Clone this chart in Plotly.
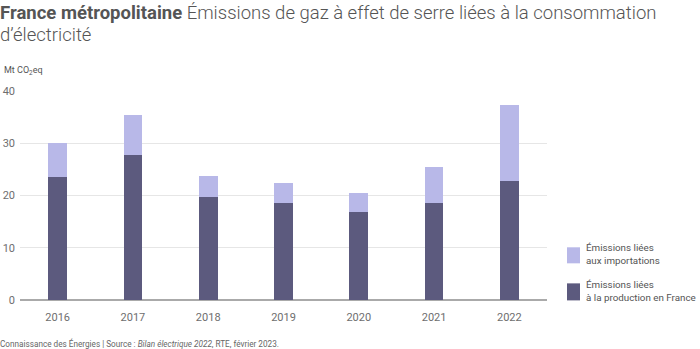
import plotly.graph_objects as go

years = ["2016", "2017", "2018", "2019", "2020", "2021", "2022"]
production = [23.6, 27.8, 19.7, 18.5, 16.8, 18.6, 22.7]
imports = [6.4, 7.6, 4.1, 3.9, 3.6, 6.9, 14.7]
y_ticks = [0, 10, 20, 30, 40]

dark = "#5c5a7e"
light = "#b8b8e8"
font = "Roboto"

# plot area geometry in pixels
L, T, W, H = 20, 91, 527, 208.6


def px(x):
    return (x - L) / W


def py(y):
    return (T + H - y) / H


fig = go.Figure()
fig.add_bar(x=years, y=production, marker=dict(color=dark, line=dict(width=0)),
            name="Émissions liées<br>à la production en France")
fig.add_bar(x=years, y=imports, marker=dict(color=light, line=dict(width=0)),
            name="Émissions liées<br>aux importations")

fig.update_layout(
    width=700, height=349,
    margin=dict(l=L, r=700 - L - W, t=T, b=349 - T - H, autoexpand=False),
    barmode="stack", bargap=0.75,
    plot_bgcolor="white", paper_bgcolor="white",
    showlegend=False,
    font=dict(family=font, color="#666666", size=11),
    xaxis=dict(showgrid=False, ticks="", tickfont=dict(size=11, color="#6e6e6e"),
               showline=False, automargin=False, ticklabelstandoff=9),
    yaxis=dict(range=[0, 40], tickvals=y_ticks, showgrid=True, gridcolor="#e6e6e6",
               gridwidth=1, zeroline=True, zerolinecolor="#aaaaaa", zerolinewidth=1.5,
               tickfont=dict(size=11, color="#6e6e6e"), ticklabelstandoff=4,
               automargin=False, fixedrange=True),
)

# Title and subtitle, two lines
fig.add_annotation(
    xref="paper", yref="paper", x=px(-2), y=py(13), xanchor="left", yanchor="middle",
    align="left", showarrow=False,
    text="<b>France métropolitaine</b> Émissions de gaz à effet de serre liées à la consommation",
    font=dict(family=font, size=18.5, color="#555555", weight=300),
)
fig.add_annotation(
    xref="paper", yref="paper", x=px(-2), y=py(35), xanchor="left", yanchor="middle",
    align="left", showarrow=False, text="d’électricité",
    font=dict(family=font, size=18.5, color="#555555", weight=300),
)
# Unit label
fig.add_annotation(
    xref="paper", yref="paper", x=px(2), y=py(71), xanchor="left", yanchor="middle",
    showarrow=False, text="Mt CO<sub>2</sub>eq",
    font=dict(family=font, size=9, color="#555555"),
)
# Source line
fig.add_annotation(
    xref="paper", yref="paper", x=px(-2), y=py(343), xanchor="left", yanchor="middle",
    showarrow=False,
    text="Connaissance des Énergies | Source : <i>Bilan électrique 2022</i>, RTE, février 2023.",
    font=dict(family=font, size=8.2, color="#666666"),
)

# Custom legend (importations on top)
legend_items = [
    (light, "Émissions liées<br>aux importations", 247, 263),
    (dark, "Émissions liées<br>à la production en France", 283, 300),
]
for color, label, y0, y1 in legend_items:
    fig.add_shape(type="rect", xref="paper", yref="paper",
                  x0=px(567), x1=px(580), y0=py(y1), y1=py(y0),
                  fillcolor=color, line=dict(width=0))
    fig.add_annotation(xref="paper", yref="paper", x=px(584),
                       y=py((y0 + y1) / 2 - 1),
                       xanchor="left", yanchor="middle", align="left", showarrow=False,
                       text=label, font=dict(family=font, size=9.8, color="#555555"))

fig.write_html("out.html")
